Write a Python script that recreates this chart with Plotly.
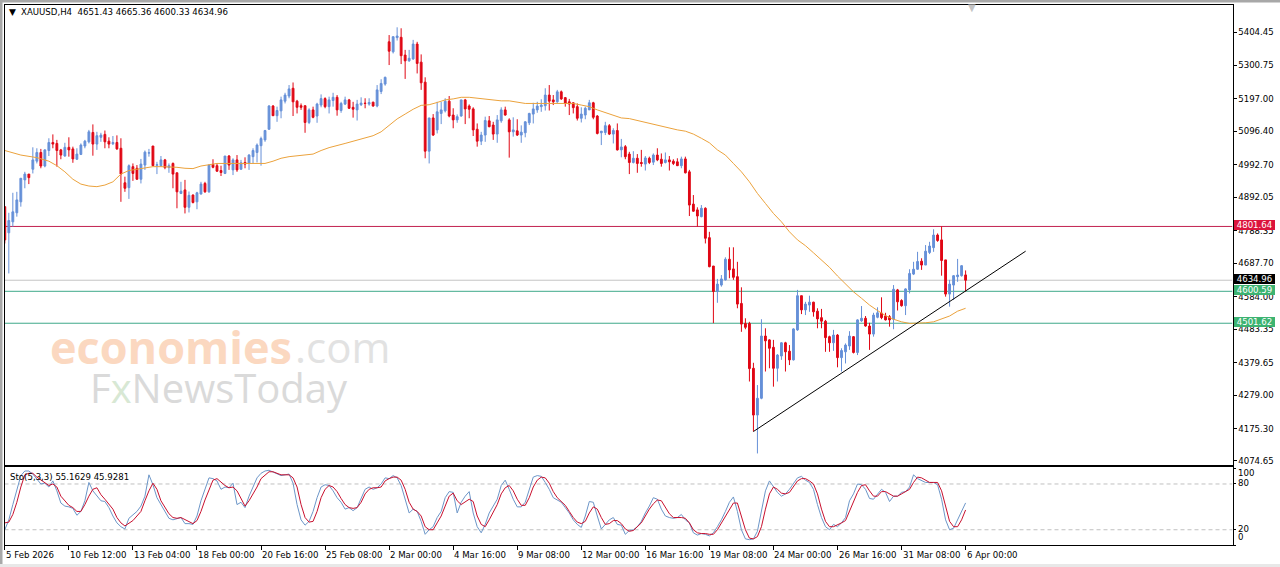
import plotly.graph_objects as go
from plotly.subplots import make_subplots

W = 1280
H = 567

# H4 candles
opens = [
    4863,4782,4816,4844,4878,4946,4964,4979,5004,5031,
    4989,5037,5062,5059,5039,5020,5047,5042,5010,5025,
    5051,5064,5093,5057,5078,5087,5066,5058,5062,5044,
    4937,4922,4987,4982,4948,4992,5029,5051,4991,4990,
    5008,4984,4997,4968,4904,4915,4861,4899,4878,4902,
    4935,4909,4994,4990,4975,4966,5020,4977,5008,4979,
    5000,4997,5018,5031,5052,5070,5103,5175,5145,5160,
    5190,5206,5230,5190,5176,5176,5124,5163,5144,5178,
    5198,5173,5192,5202,5161,5181,5194,5171,5163,5179,
    5184,5181,5187,5175,5220,5243,5374,5343,5387,5388,
    5333,5315,5321,5367,5311,5249,5035,5138,5101,5152,
    5160,5190,5147,5132,5144,5194,5175,5166,5103,5066,
    5085,5129,5116,5088,5129,5163,5132,5095,5098,5085,
    5092,5123,5150,5163,5173,5176,5209,5194,5188,5219,
    5201,5188,5185,5173,5137,5147,5163,5185,5144,5092,
    5093,5114,5088,5099,5039,5049,5026,5000,5013,5000,
    4995,5013,5001,5023,5010,5000,5008,5004,5002,4990,
    5011,4971,4871,4853,4832,4858,4767,4679,4600,4620,
    4636,4700,4670,4646,4563,4501,4501,4362,4217,4269,
    4462,4450,4427,4362,4400,4441,4415,4388,4481,4587,
    4543,4558,4567,4539,4519,4508,4460,4441,4465,4395,
    4413,4431,4460,4411,4509,4517,4493,4468,4520,4533,
    4524,4522,4514,4605,4572,4556,4605,4654,4669,4694,
    4682,4721,4736,4775,4760,4698,4592,4620,4646,4649,
    4651.43,
]
highs = [
    4863,4844,4906,4909,4951,4971,4964,5047,5044,5042,
    5041,5075,5087,5070,5042,5061,5078,5049,5044,5059,
    5070,5101,5118,5095,5092,5099,5078,5082,5084,5075,
    4956,4994,4997,4992,5011,5037,5042,5051,5002,5020,
    5011,4997,5000,4968,4940,4946,4910,4901,4909,4940,
    4940,4994,5010,4997,4990,5020,5023,5013,5023,5008,
    5016,5026,5044,5059,5080,5101,5178,5178,5173,5204,
    5216,5240,5248,5194,5183,5176,5168,5173,5185,5211,
    5202,5204,5216,5209,5188,5204,5197,5188,5194,5202,
    5199,5199,5188,5240,5258,5266,5395,5390,5419,5416,
    5349,5349,5380,5374,5335,5264,5138,5150,5188,5188,
    5199,5206,5168,5149,5194,5197,5180,5171,5121,5095,
    5142,5144,5126,5147,5171,5173,5137,5140,5134,5115,
    5128,5154,5185,5188,5196,5230,5240,5209,5225,5223,
    5203,5197,5186,5183,5171,5173,5194,5188,5147,5097,
    5126,5119,5106,5121,5073,5054,5033,5035,5026,5039,
    5020,5018,5028,5044,5028,5031,5020,5010,5013,5018,
    5018,4977,4899,4861,4868,4861,4785,4679,4639,4651,
    4706,4737,4737,4692,4613,4517,4506,4379,4310,4514,
    4486,4452,4450,4406,4443,4444,4434,4486,4605,4587,
    4568,4587,4568,4548,4546,4512,4463,4481,4468,4424,
    4439,4477,4462,4514,4555,4524,4503,4534,4551,4582,
    4534,4527,4620,4608,4576,4610,4669,4692,4723,4703,
    4744,4754,4793,4780,4802,4698,4636,4651,4701,4682,
    4665.36,
]
lows = [
    4749,4656,4801,4832,4863,4920,4933,4966,4997,4982,
    4985,5020,5044,4987,5010,5018,5018,4999,5008,5023,
    5044,5059,5021,5039,5064,5044,5044,5054,5039,4878,
    4909,4887,4943,4946,4935,4977,5018,4989,4964,4987,
    4979,4968,4920,4858,4902,4842,4845,4873,4855,4901,
    4906,4906,4982,4971,4958,4964,4977,4961,4971,4977,
    4982,4977,4997,5000,4990,5064,5101,5144,5126,5137,
    5183,5199,5144,5152,5163,5092,5119,5137,5123,5171,
    5168,5152,5173,5145,5154,5178,5166,5139,5130,5175,
    5168,5176,5173,5171,5212,5238,5302,5338,5378,5305,
    5259,5312,5318,5276,5225,5013,4997,5082,5090,5119,
    5155,5140,5106,5123,5142,5119,5137,5082,5049,5054,
    5064,5109,5070,5061,5123,5145,5015,5080,5082,5061,
    5078,5116,5121,5154,5157,5161,5161,5178,5185,5194,
    5173,5147,5152,5130,5124,5134,5163,5134,5087,5054,
    5085,5085,5059,5037,5016,5010,4964,4997,4968,4987,
    4975,4995,4992,5004,4987,4997,4975,4992,4989,4982,
    4966,4834,4847,4801,4830,4749,4675,4502,4565,4615,
    4634,4641,4636,4548,4475,4483,4321,4166,4098,4266,
    4352,4362,4305,4321,4388,4352,4372,4386,4478,4530,
    4527,4537,4522,4486,4486,4413,4413,4416,4365,4352,
    4377,4419,4408,4403,4506,4491,4419,4460,4517,4514,
    4510,4491,4483,4541,4553,4527,4594,4651,4667,4667,
    4682,4716,4723,4754,4649,4584,4553,4574,4630,4646,
    4600.33,
]
closes = [
    4760,4820,4847,4884,4951,4964,4953,5008,5031,4989,
    5039,5062,5057,5037,5023,5047,5039,5011,5026,5054,
    5066,5095,5057,5083,5085,5064,5057,5062,5042,4964,
    4920,4990,4966,4948,4995,5032,5030,4990,4993,5008,
    4984,4990,4964,4909,4911,4861,4898,4876,4906,4933,
    4909,4992,4985,4973,4969,5020,4992,5008,4977,4999,
    4995,5023,5037,5054,5074,5099,5175,5145,5161,5194,
    5209,5228,5188,5171,5171,5124,5163,5140,5181,5198,
    5173,5194,5202,5163,5183,5194,5168,5165,5181,5184,
    5183,5186,5175,5225,5245,5264,5345,5390,5392,5331,
    5315,5323,5367,5307,5247,5035,5138,5085,5157,5163,
    5190,5144,5132,5142,5194,5166,5165,5101,5066,5085,
    5130,5111,5088,5132,5163,5147,5095,5101,5085,5094,
    5126,5152,5166,5175,5178,5209,5190,5188,5219,5197,
    5183,5181,5170,5137,5150,5168,5185,5140,5090,5097,
    5114,5088,5099,5039,5048,5018,5000,5013,4997,4997,
    5014,5000,5023,5008,4997,5008,5002,4997,4990,5011,
    4968,4868,4849,4834,4858,4765,4677,4600,4623,4639,
    4700,4667,4644,4561,4499,4489,4361,4217,4269,4462,
    4447,4424,4362,4403,4441,4413,4388,4484,4587,4543,
    4561,4567,4537,4515,4508,4457,4441,4465,4395,4417,
    4434,4462,4411,4512,4517,4493,4468,4527,4534,4519,
    4512,4512,4607,4568,4556,4608,4656,4669,4693,4682,
    4725,4741,4775,4758,4696,4592,4623,4649,4651,4680,
    4634.96,
]

# moving average, sampled where it could be read
ma_bars = [0,4,8,11,13,15,17,19,21,23,25,27,29,31,33,35,37,39,41,43,45,47,49,51,53,55,57,59,61,63,65,
           67,69,71,73,75,77,79,81,85,89,92,94,96,98,100,102,104,106,108,110,112,114,116,118,120,122,
           124,126,128,130,132,134,136,138,140,142,144,146,148,150,152,154,156,158,160,162,164,166,168,
           170,172,174,176,178,180,182,184,186,188,190,192,194,196,198,200,202,204,206,208,210,212,214,
           216,218,220,222,224,226,228,230,232,234,236,238,240]
ma_values = [5037,5023,5015,5004,4990,4971,4948,4933,4927,4925,4930,4940,4964,4975,4979,4982,4987,4987,
             4987,4985,4982,4981,4989,4992,4997,4997,4997,4997,4997,4997,4997,
             5004,5013,5018,5021,5024,5026,5037,5046,5059,5072,5083,5095,5116,5135,5150,5165,5177,5179,
             5186,5194,5197,5202,5202,5199,5196,5193,
             5191,5191,5187,5183,5183,5183,5183,5183,5183,5183,5178,5173,5163,5154,5145,5138,5136,5130,
             5123,5119,5113,5106,5101,
             5097,5088,5075,5061,5039,5023,4997,4971,4940,4904,4873,4842,4816,4785,4760,4742,4720,4698,
             4675,4648,4623,4599,4579,
             4558,4541,4525,4514,4506,4501,4501,4503,4506,4515,4524,4539,4548]

# stochastic lines, one value per bar
sto_k = [
    20,33,53,73,91,97,97,93,87,80,
    81,76,84,71,55,51,50,48,39,44,
    58,82,71,64,58,57,49,38,29,24,
    21,35,40,44,51,64,92,79,62,53,
    44,35,33,35,36,28,28,27,38,58,
    73,88,87,84,73,76,75,81,53,56,
    49,64,76,88,94,97,98,96,93,91,
    92,93,81,53,33,26,31,44,62,76,
    79,78,71,62,56,47,49,45,49,60,
    73,76,73,75,80,88,87,91,88,78,
    60,42,47,44,31,14,20,24,36,44,
    62,70,69,42,56,64,70,42,24,16,
    27,42,51,60,
    78,85,73,60,50,50,56,73,89,91,
    90,82,73,62,59,56,49,42,33,27,
    23,38,57,56,38,21,27,33,36,27,
    26,14,19,20,24,31,42,51,62,60,
    47,38,36,35,36,40,33,29,16,13,
    15,14,12,16,24,33,44,56,63,44,
    20,8,7,8,18,44,71,84,76,69,
    64,67,73,80,88,90,85,82,73,53,
    36,24,20,27,24,29,36,58,67,80,
    79,73,61,60,67,73,69,57,64,64,
    69,70,76,92,87,84,82,82,82,79,
    60,33,20,22,33,44,55.16,
]
sto_d = [
    29,30,40,56,76,92,94,94,89,85,
    82,78,80,76,64,58,52,49,44,44,
    53,64,73,75,66,60,53,47,36,29,
    25,28,32,38,44,58,71,81,73,58,
    49,41,36,35,36,33,30,28,32,44,
    59,73,85,87,82,78,75,76,71,60,
    51,58,67,76,87,92,96,96,94,92,
    92,92,88,76,53,36,30,31,44,62,
    73,78,76,70,61,53,49,48,49,56,
    67,73,75,75,76,84,87,89,89,85,
    73,56,47,44,38,24,20,20,29,38,
    51,64,68,58,53,56,60,57,38,27,
    24,33,44,53,
    67,75,78,71,60,52,52,62,76,85,
    89,88,81,70,62,57,52,44,36,30,
    28,31,42,50,47,36,27,28,32,32,
    28,21,18,19,24,29,38,47,54,59,
    58,49,41,36,36,36,35,29,20,16,
    15,15,14,14,20,29,38,47,55,55,
    38,20,9,8,11,24,47,67,76,73,
    68,67,69,76,84,87,87,84,80,67,
    47,31,24,24,26,29,32,44,58,69,
    78,79,71,64,64,70,70,67,64,64,
    67,69,73,82,89,88,85,82,82,82,
    71,51,31,24,24,33,45.93,
]

price_ticks = [5404.45,5300.75,5197.00,5096.40,4992.70,4892.05,4788.35,4687.70,4584.00,4483.35,4379.65,4279.00,4175.30,4074.65]
price_tick_text = ["5404.45","5300.75","5197.00","5096.40","4992.70","4892.05","4788.35","4687.70","4584.00","4483.35","4379.65","4279.00","4175.30","4074.65"]
date_ticks = [0,16,32,48,64,80,96,112,128,144,160,176,192,208,224,240]
date_labels = ["5 Feb 2026","10 Feb 12:00","13 Feb 04:00","18 Feb 00:00","20 Feb 16:00","25 Feb 08:00","2 Mar 00:00","4 Mar 16:00",
               "9 Mar 08:00","12 Mar 00:00","16 Mar 16:00","19 Mar 08:00","24 Mar 00:00","26 Mar 16:00","31 Mar 08:00","6 Apr 00:00"]
sto_levels = [80, 20]
sto_labels = ["100", "80", "20", "0"]
sto_label_y = [473, 483, 528.5, 537]

# horizontal levels: value, colour of line and tag
level_values = [4801.64, 4634.96, 4600.59, 4501.62]
level_line_colors = ["#c2204f", "#c4c4c4", "#3fa98a", "#3fa98a"]
level_tag_colors = ["#dc143c", "#000000", "#3cb371", "#3cb371"]

trend_bars = [187, 255]
trend_prices = [4166, 4725]

FONT = "DejaVu Sans"
TEXT_SIZE = 8.6
BLUE = "#6690d8"
RED = "#e00714"

bars = list(range(len(closes)))
x_range = [-0.08, 306.67]


def py(px):
    return 1 - px / H


fig = make_subplots(rows=2, cols=1)

fig.add_trace(go.Candlestick(x=bars, open=opens, high=highs, low=lows, close=closes,
                             increasing=dict(line=dict(color=BLUE, width=1), fillcolor=BLUE),
                             decreasing=dict(line=dict(color=RED, width=1), fillcolor=RED),
                             whiskerwidth=0), row=1, col=1)
fig.add_trace(go.Scatter(x=ma_bars, y=ma_values, mode="lines", line=dict(color="#eba23c", width=1)), row=1, col=1)
fig.add_trace(go.Scatter(x=trend_bars, y=trend_prices, mode="lines", line=dict(color="#000000", width=1)), row=1, col=1)
fig.add_trace(go.Scatter(x=bars, y=sto_k, mode="lines", line=dict(color="#6c96c8", width=1)), row=2, col=1)
fig.add_trace(go.Scatter(x=bars, y=sto_d, mode="lines", line=dict(color="#c8102e", width=1)), row=2, col=1)

shapes = []
for val, col in zip(level_values, level_line_colors):
    shapes.append(dict(type="line", xref="x", yref="y", x0=x_range[0], x1=x_range[1], y0=val, y1=val,
                       line=dict(color=col, width=1), layer="below"))
for lev in sto_levels:
    shapes.append(dict(type="line", xref="x2", yref="y2", x0=x_range[0], x1=x_range[1], y0=lev, y1=lev,
                       line=dict(color="#c0c0c0", width=1, dash="4px,3px"), layer="below"))
# window edges
shapes.append(dict(type="rect", xref="paper", yref="paper", x0=0, x1=1, y0=py(2.5), y1=1,
                   fillcolor="#a8a8a8", line=dict(width=0)))
shapes.append(dict(type="rect", xref="paper", yref="paper", x0=0, x1=2.5 / W, y0=py(H), y1=1,
                   fillcolor="#a8a8a8", line=dict(width=0)))
shapes.append(dict(type="rect", xref="paper", yref="paper", x0=0, x1=1, y0=0, y1=py(564),
                   fillcolor="#e8e8e8", line=dict(width=0)))

notes = []
# watermark
notes.append(dict(x=48 / W, y=py(346), xref="paper", yref="paper", xanchor="left", yanchor="middle", showarrow=False,
                  text="<b>economies</b>", font=dict(family="Open Sans", size=45, color="#fbd8c0")))
notes.append(dict(x=293 / W, y=py(346), xref="paper", yref="paper", xanchor="left", yanchor="middle", showarrow=False,
                  text=".com", font=dict(family="Open Sans", size=42, color="#e2e2e2")))
notes.append(dict(x=88 / W, y=py(387), xref="paper", yref="paper", xanchor="left", yanchor="middle", showarrow=False,
                  text='<span style="color:#dadada">F</span><span style="color:#d8e8d4">x</span><span style="color:#dadada">NewsToday</span>',
                  font=dict(family="Open Sans", size=40)))
# header texts
notes.append(dict(x=7 / W, y=py(12.5), xref="paper", yref="paper", xanchor="left", yanchor="middle", showarrow=False,
                  text="▼", font=dict(family="DejaVu Sans", size=9, color="#000000")))
notes.append(dict(x=19 / W, y=py(12.5), xref="paper", yref="paper", xanchor="left", yanchor="middle", showarrow=False,
                  text="XAUUSD,H4  4651.43 4665.36 4600.33 4634.96", font=dict(family=FONT, size=TEXT_SIZE, color="#000000")))
notes.append(dict(x=8 / W, y=py(476.5), xref="paper", yref="paper", xanchor="left", yanchor="middle", showarrow=False,
                  text="Sto(5,3,3) 55.1629 45.9281", font=dict(family=FONT, size=TEXT_SIZE, color="#000000")))
# gray shift marker at the top
notes.append(dict(x=972 / W, y=py(7.5), xref="paper", yref="paper", xanchor="center", yanchor="middle", showarrow=False,
                  text="▼", font=dict(family="DejaVu Sans", size=10, color="#c4c4c4")))
# date labels start at their tick
for b, lab in zip(date_ticks, date_labels):
    notes.append(dict(x=b, y=py(554.5), xref="x2", yref="paper", xanchor="left", yanchor="middle", showarrow=False,
                      xshift=-1, text=lab, font=dict(family=FONT, size=TEXT_SIZE, color="#000000")))
for lab, ly in zip(sto_labels, sto_label_y):
    notes.append(dict(x=1236 / W, y=py(ly), xref="paper", yref="paper", xanchor="left", yanchor="middle", showarrow=False,
                      text=lab, font=dict(family=FONT, size=TEXT_SIZE, color="#000000")))
# price tags
for val, col in zip(level_values, level_tag_colors):
    notes.append(dict(x=1234 / W, y=val, xref="paper", yref="y", xanchor="left", yanchor="middle", showarrow=False,
                      yshift=1, text=f"{val:.2f}", bgcolor=col, width=41, height=10, borderpad=0, borderwidth=0, align="center",
                      font=dict(family=FONT, size=TEXT_SIZE, color="#ffffff")))

fig.update_layout(width=W, height=H, margin=dict(l=0, r=0, t=0, b=0), paper_bgcolor="#ffffff", plot_bgcolor="#ffffff",
                  showlegend=False, boxgap=0.35, shapes=shapes, annotations=notes,
                  font=dict(family=FONT, size=TEXT_SIZE, color="#000000"))
fig.update_xaxes(range=x_range, showgrid=False, zeroline=False, rangeslider_visible=False,
                 showline=True, mirror=True, linecolor="#000000", linewidth=1)
fig.update_yaxes(showgrid=False, zeroline=False, showline=True, mirror=True, linecolor="#000000", linewidth=1, side="right")

fig.update_layout(
    xaxis=dict(domain=[4.5 / W, 1232.5 / W], showticklabels=False, ticks=""),
    xaxis2=dict(domain=[4.5 / W, 1232.5 / W], showticklabels=False, ticks="outside", ticklen=4, tickcolor="#000000",
                tickmode="array", tickvals=date_ticks),
    yaxis=dict(domain=[py(465), py(5)], range=[4062.15, 5488.15], tickmode="array", tickvals=price_ticks,
               ticktext=price_tick_text, ticks="outside", ticklen=3, tickcolor="#000000",
               tickfont=dict(family=FONT, size=TEXT_SIZE, color="#000000")),
    yaxis2=dict(domain=[py(545), py(466.5)], range=[0, 102.9], tickmode="array", tickvals=[0, 20, 80, 100],
                showticklabels=False, ticks="outside", ticklen=2, tickcolor="#000000"),
)

fig.write_html("out.html", config={"displayModeBar": False},
               post_script="document.body.style.margin='0';document.body.style.overflow='hidden';")
